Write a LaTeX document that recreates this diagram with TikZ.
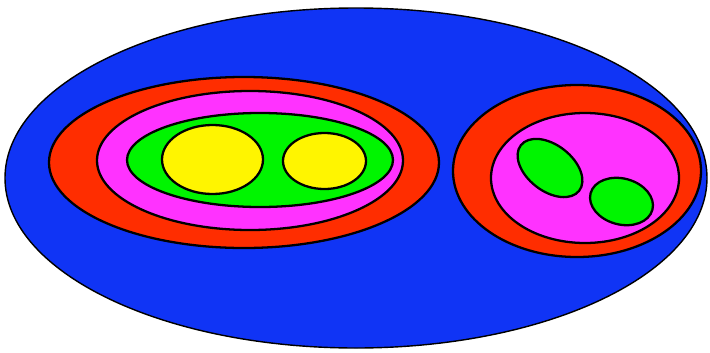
\documentclass[tikz,border=0pt]{standalone}
\usepackage{tikz}
\usepackage{xcolor}
\definecolor{setblue}{RGB}{16,52,245}
\definecolor{setred}{RGB}{255,45,0}
\definecolor{setpink}{RGB}{255,50,255}
\definecolor{setgreen}{RGB}{0,245,0}
\definecolor{setyellow}{RGB}{255,245,0}

\begin{document}
\begin{tikzpicture}[x=0.02cm, y=-0.02cm,
  setline/.style={draw=black, line width=1.3pt}]
\useasboundingbox (0,0) rectangle (710,352);
% outer set
\filldraw[setblue, draw=black, line width=0.8pt] (356,178) ellipse [x radius=351, y radius=170];
% left group
\filldraw[setline, fill=setred] (244,162.5) ellipse [x radius=195, y radius=85.5];
\filldraw[setline, fill=setpink] (250,160.5) ellipse [x radius=153, y radius=69.5];
\filldraw[setline, fill=setgreen] (260,160) ellipse [x radius=133, y radius=47];
\filldraw[setline, fill=setyellow] (212.5,159.5) ellipse [x radius=50.5, y radius=34.5];
\filldraw[setline, fill=setyellow] (324.5,161) ellipse [x radius=41.5, y radius=28];
% right group
\filldraw[setline, fill=setred] (577,171) ellipse [x radius=124, y radius=86];
\filldraw[setline, fill=setpink] (585,178) ellipse [x radius=94, y radius=65];
\filldraw[setline, fill=setgreen, rotate around={-38:(550,168)}] (550,168) ellipse [x radius=37, y radius=23];
\filldraw[setline, fill=setgreen, rotate around={-15:(621.5,201.5)}] (621.5,201.5) ellipse [x radius=32, y radius=23];
\end{tikzpicture}
\end{document}
